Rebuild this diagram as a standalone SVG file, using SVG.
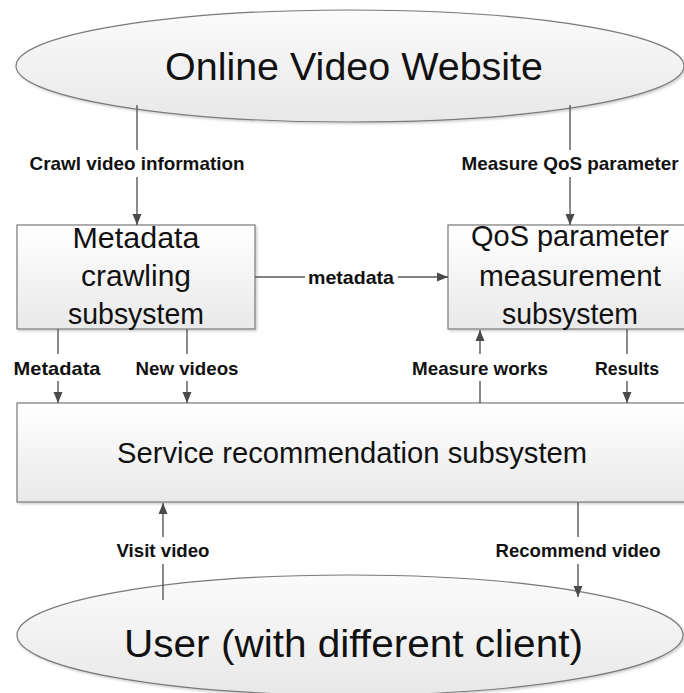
<svg xmlns="http://www.w3.org/2000/svg" width="684" height="693" viewBox="0 0 684 693">
  <style>
    .node { stroke: #7a7a7a; stroke-width: 1.2; }
    .box { fill: url(#boxGrad); filter: url(#shadow); }
    .ell { fill: url(#ellGrad); filter: url(#shadow); }
    .big { font-family: "Liberation Sans", Arial, sans-serif; fill: #111; text-anchor: middle; }
    .t1 { font-size: 38px; }
    .t2 { font-size: 29px; }
    .lbl { font-family: "Liberation Sans", Arial, sans-serif; font-weight: bold; font-size: 19px; fill: #111; text-anchor: middle; }
    .conn { stroke: #595959; stroke-width: 1.4; fill: none; marker-end: url(#arrow); }
    .bg { fill: #ffffff; }
  </style>
  <defs>
    <linearGradient id="boxGrad" x1="0" y1="0" x2="0" y2="1">
      <stop offset="0" stop-color="#ffffff"/>
      <stop offset="1" stop-color="#e9e9e9"/>
    </linearGradient>
    <linearGradient id="ellGrad" x1="0" y1="0" x2="0" y2="1">
      <stop offset="0" stop-color="#fbfbfb"/>
      <stop offset="1" stop-color="#e8e8e8"/>
    </linearGradient>
    <filter id="shadow" x="-5%" y="-5%" width="110%" height="115%">
      <feDropShadow dx="1.5" dy="1.5" stdDeviation="1" flood-color="#000" flood-opacity="0.2"/>
    </filter>
    <marker id="arrow" markerUnits="userSpaceOnUse" markerWidth="12" markerHeight="12" viewBox="0 0 12 12" refX="11" refY="6" orient="auto">
      <path d="M0,1.5 L11,6 L0,10.5 Z" fill="#4a4a4a"/>
    </marker>
  </defs>

  <rect width="684" height="693" fill="#ffffff"/>

  <g id="website">
    <ellipse class="node ell" cx="350" cy="66" rx="334" ry="56"/>
    <text class="big t1" x="354" y="80" textLength="378" lengthAdjust="spacingAndGlyphs">Online Video Website</text>
  </g>

  <g id="crawler">
    <rect class="node box" x="17" y="225" width="238" height="104"/>
    <text class="big t2" x="136" y="248" textLength="127" lengthAdjust="spacingAndGlyphs">Metadata</text>
    <text class="big t2" x="136" y="286" textLength="110" lengthAdjust="spacingAndGlyphs">crawling</text>
    <text class="big t2" x="136" y="324" textLength="136" lengthAdjust="spacingAndGlyphs">subsystem</text>
  </g>

  <g id="qos">
    <rect class="node box" x="448" y="225" width="244" height="104"/>
    <text class="big t2" x="570" y="246" textLength="198" lengthAdjust="spacingAndGlyphs">QoS parameter</text>
    <text class="big t2" x="570" y="286" textLength="182" lengthAdjust="spacingAndGlyphs">measurement</text>
    <text class="big t2" x="570" y="324" textLength="136" lengthAdjust="spacingAndGlyphs">subsystem</text>
  </g>

  <g id="service">
    <rect class="node box" x="17" y="403" width="680" height="99"/>
    <text class="big t2" x="352" y="463" textLength="470" lengthAdjust="spacingAndGlyphs">Service recommendation subsystem</text>
  </g>

  <g id="user">
    <ellipse class="node ell" cx="350" cy="635" rx="333" ry="60"/>
    <text class="big t1" x="353.5" y="657" textLength="459" lengthAdjust="spacingAndGlyphs">User (with different client)</text>
  </g>

  <g id="connectors">
    <line class="conn" x1="137" y1="105" x2="137" y2="225"/>
    <line class="conn" x1="570" y1="105" x2="570" y2="225"/>
    <line class="conn" x1="255" y1="277" x2="448" y2="277"/>
    <line class="conn" x1="58" y1="329" x2="58" y2="403"/>
    <line class="conn" x1="187" y1="329" x2="187" y2="403"/>
    <line class="conn" x1="480" y1="403" x2="480" y2="330"/>
    <line class="conn" x1="627" y1="329" x2="627" y2="403"/>
    <line class="conn" x1="163" y1="600" x2="163" y2="503"/>
    <line class="conn" x1="578" y1="502" x2="578" y2="597"/>

    <rect class="bg" x="27" y="150" width="221" height="27"/>
    <text class="lbl" x="137" y="170" textLength="215" lengthAdjust="spacingAndGlyphs">Crawl video information</text>
    <rect class="bg" x="459" y="150" width="223" height="27"/>
    <text class="lbl" x="570" y="170" textLength="217" lengthAdjust="spacingAndGlyphs">Measure QoS parameter</text>
    <rect class="bg" x="305" y="268" width="93" height="18"/>
    <text class="lbl" x="351" y="284" textLength="86" lengthAdjust="spacingAndGlyphs">metadata</text>
    <rect class="bg" x="12" y="354" width="92" height="27"/>
    <text class="lbl" x="57" y="375" textLength="87" lengthAdjust="spacingAndGlyphs">Metadata</text>
    <rect class="bg" x="134" y="354" width="107" height="27"/>
    <text class="lbl" x="187" y="375" textLength="103" lengthAdjust="spacingAndGlyphs">New videos</text>
    <rect class="bg" x="410" y="354" width="141" height="27"/>
    <text class="lbl" x="480" y="375" textLength="136" lengthAdjust="spacingAndGlyphs">Measure works</text>
    <rect class="bg" x="593" y="354" width="68" height="27"/>
    <text class="lbl" x="627" y="375" textLength="64" lengthAdjust="spacingAndGlyphs">Results</text>
    <rect class="bg" x="115" y="537" width="97" height="27"/>
    <text class="lbl" x="163" y="557" textLength="93" lengthAdjust="spacingAndGlyphs">Visit video</text>
    <rect class="bg" x="493" y="537" width="170" height="27"/>
    <text class="lbl" x="578" y="557" textLength="165" lengthAdjust="spacingAndGlyphs">Recommend video</text>
  </g>
</svg>
